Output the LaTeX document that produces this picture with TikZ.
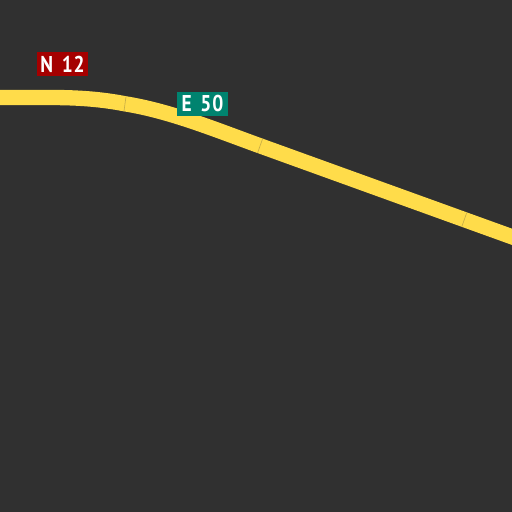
\documentclass[tikz,border=0pt]{standalone}
\usepackage{fontspec}
\setmainfont[FakeStretch=0.85,LetterSpace=4,WordSpace=1.5]{PT Sans}
\definecolor{groundgrey}{HTML}{303030}
\definecolor{roadyellow}{HTML}{FFDC4A}
\definecolor{seamyellow}{HTML}{C9AE46}
\definecolor{signred}{HTML}{A50000}
\definecolor{signgreen}{HTML}{00836F}
\begin{document}
\begin{tikzpicture}[x=0.03cm,y=-0.03cm,
road/.style = {line width=0.46cm,roadyellow},
seam/.style = {line width=0.02cm,seamyellow},
sign/.style = {minimum width=1.53cm,minimum height=0.72cm,inner sep=0pt,
        text=white,font=\fontsize{19.5}{19.5}\selectfont\bfseries},
]

        \fill[groundgrey] (0,0) rectangle (512,512);
        \useasboundingbox (0,0) rectangle (512,512);

        \coordinate (R_A) at ( -5, 97.5 );
        \coordinate (R_B) at ( 125, 103.8 );
        \coordinate (R_C) at ( 260, 145.8 );
        \coordinate (R_D) at ( 464.3, 219.6 );
        \coordinate (R_E) at ( 520, 239.7 );
        \draw[road] (R_A) -- (50,97.5) .. controls (80,97.5) and (103,99.5) .. (R_B)
            .. controls (170,111) and (215,129.5) .. (R_C) -- (R_D) -- (R_E);

        \draw[seam] (124,111) -- (126,96.7);
        \draw[seam] (257.6,152.9) -- (262.6,138.7);
        \draw[seam] (461.8,226.7) -- (466.8,212.5);

        \node[sign,fill=signred] (N12) at ( 62.5, 64 ) {N 12};
        \node[sign,fill=signgreen] (E50) at ( 202.5, 104 ) {E 50};

    \end{tikzpicture}
\end{document}
